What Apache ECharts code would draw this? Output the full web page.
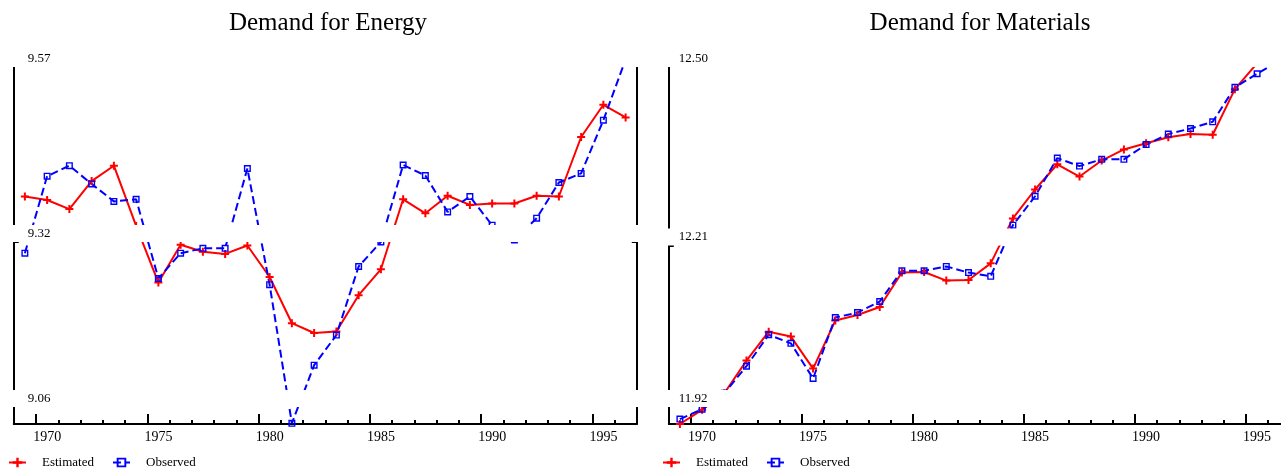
<!DOCTYPE html>
<html>
<head>
<meta charset="utf-8">
<script src="https://cdn.jsdelivr.net/npm/echarts@6/dist/echarts.min.js"></script>
<style>
  html, body { margin: 0; padding: 0; background: #fff; }
  #chart { width: 1281px; height: 469px; }
</style>
</head>
<body>
<div id="chart"></div>
<script>
// ---------------- data ----------------
const years = ['1969','1970','1971','1972','1973','1974','1975','1976','1977','1978',
               '1979','1980','1981','1982','1983','1984','1985','1986','1987','1988',
               '1989','1990','1991','1992','1993','1994','1995','1996'];

const energyEstimated = [9.385, 9.380, 9.367, 9.407, 9.429, 9.343, 9.262, 9.316, 9.306, 9.303,
                         9.315, 9.270, 9.204, 9.190, 9.192, 9.244, 9.281, 9.381, 9.361, 9.386,
                         9.373, 9.375, 9.375, 9.386, 9.385, 9.470, 9.516, 9.498];
const energyObserved  = [9.304, 9.414, 9.429, 9.403, 9.378, 9.381, 9.268, 9.304, 9.311, 9.311,
                         9.425, 9.259, 9.061, 9.144, 9.187, 9.285, 9.320, 9.430, 9.415, 9.363,
                         9.385, 9.344, 9.323, 9.354, 9.405, 9.418, 9.494, 9.581];

const materialsEstimated = [11.920, 11.943, 11.970, 12.023, 12.070, 12.062, 12.010, 12.088, 12.097, 12.110,
                            12.166, 12.167, 12.153, 12.154, 12.181, 12.254, 12.301, 12.342, 12.322, 12.348,
                            12.366, 12.376, 12.386, 12.391, 12.390, 12.464, 12.506, 12.515];
const materialsObserved  = [11.928, 11.944, 11.970, 12.014, 12.065, 12.051, 11.994, 12.093, 12.101, 12.119,
                            12.169, 12.169, 12.176, 12.166, 12.160, 12.243, 12.290, 12.352, 12.339, 12.350,
                            12.350, 12.374, 12.391, 12.400, 12.411, 12.467, 12.489, 12.510];

const energyTicks = [9.06, 9.32, 9.57];
const energyTickLabels = ['9.06', '9.32', '9.57'];
const materialsTicks = [11.92, 12.21, 12.50];
const materialsTickLabels = ['11.92', '12.21', '12.50'];

const titles = ['Demand for Energy', 'Demand for Materials'];
const seriesNames = ['Estimated', 'Observed'];

// ---------------- styling ----------------
const FONT = "'Liberation Serif', 'Times New Roman', serif";
const BLACK = '#000';
const PLUS = 'path://M3,0h2v3h3v2h-3v3h-2v-3h-3v-2h3z';
const BOX = 'path://M0,0h8v8h-8z M1.6,1.6v4.8h4.8v-4.8z';

function xAxes(gridIndex) {
  return [
    {
      gridIndex, type: 'category', data: years, boundaryGap: true, position: 'bottom',
      axisLine: { show: true, lineStyle: { color: BLACK, width: 2 } },
      axisTick: { show: true, inside: true, length: 4, interval: 0, lineStyle: { color: BLACK, width: 2 } },
      axisLabel: {
        show: true, margin: 6, color: BLACK, fontFamily: FONT, fontSize: 14,
        interval: (i, v) => (+v) % 5 === 0
      },
      splitLine: { show: false }
    },
    {
      gridIndex, type: 'category', data: years, boundaryGap: true, position: 'bottom', offset: 0,
      axisLine: { show: false },
      axisTick: { show: true, inside: true, length: 10, interval: (i, v) => (+v) % 5 === 0,
                  lineStyle: { color: BLACK, width: 2 } },
      axisLabel: { show: false },
      splitLine: { show: false }
    }
  ];
}

function yAxes(gridIndex, ticks, labels, textPad) {
  const min = ticks[0], max = ticks[ticks.length - 1];
  const innerTicks = ticks.slice(0, ticks.length - 1);
  return [
    {
      gridIndex, type: 'value', position: 'left', min, max, z: 6,
      axisLine: { show: true, lineStyle: { color: BLACK, width: 2 } },
      axisTick: { show: true, inside: true, length: 5, customValues: innerTicks,
                  lineStyle: { color: BLACK, width: 2 } },
      splitLine: { show: false },
      axisLabel: {
        show: true, inside: true, margin: -14, customValues: ticks,
        verticalAlign: 'bottom', align: 'left',
        formatter: (value) => {
          let idx = 0, best = Infinity;
          ticks.forEach((t, i) => { const d = Math.abs(t - value); if (d < best) { best = d; idx = i; } });
          const lab = labels[idx];
          return idx === 0 ? '{band|' + lab + '}\n{gap| }' : '{band|' + lab + '}';
        },
        rich: {
          band: {
            backgroundColor: '#ffffff', width: 640, height: 17, lineHeight: 17,
            padding: [0, 0, 0, textPad], align: 'left', verticalAlign: 'middle',
            color: BLACK, fontFamily: FONT, fontSize: 13
          },
          gap: { height: 17, lineHeight: 17, fontSize: 13, color: 'rgba(0,0,0,0)' }
        }
      }
    },
    {
      gridIndex, type: 'value', position: 'right', min, max, z: 4,
      axisLine: { show: true, lineStyle: { color: BLACK, width: 2 } },
      axisTick: { show: true, inside: true, length: 5, customValues: innerTicks,
                  lineStyle: { color: BLACK, width: 2 } },
      splitLine: { show: false },
      axisLabel: { show: false }
    }
  ];
}

function makeSeries(axisBase, est, obs) {
  return [
    {
      name: seriesNames[0], type: 'line', xAxisIndex: axisBase, yAxisIndex: axisBase,
      data: est, symbol: PLUS, symbolSize: 8, showAllSymbol: true, z: 2,
      itemStyle: { color: '#ff0000' },
      lineStyle: { color: '#ff0000', width: 2 },
      emphasis: { disabled: true }
    },
    {
      name: seriesNames[1], type: 'line', xAxisIndex: axisBase, yAxisIndex: axisBase,
      data: obs, symbol: BOX, symbolSize: 7, showAllSymbol: true, z: 2,
      itemStyle: { color: '#0000ff' },
      lineStyle: { color: '#0000ff', width: 2, type: [8, 4] },
      emphasis: { disabled: true }
    }
  ];
}

function legendAt(left) {
  return {
    left, top: 456, orient: 'horizontal', selectedMode: false, padding: 0,
    data: seriesNames, itemWidth: 17, itemHeight: 12, itemGap: 18,
    textStyle: { fontFamily: FONT, fontSize: 13, color: BLACK, padding: [0, 0, 0, 11] }
  };
}

const option = {
  animation: false,
  backgroundColor: '#ffffff',
  textStyle: { fontFamily: FONT },
  title: [
    { text: titles[0], left: 323, top: 6, textAlign: 'center',
      textStyle: { fontFamily: FONT, fontSize: 25, fontWeight: 'normal', color: BLACK } },
    { text: titles[1], left: 975, top: 6, textAlign: 'center',
      textStyle: { fontFamily: FONT, fontSize: 25, fontWeight: 'normal', color: BLACK } }
  ],
  legend: [legendAt(8), legendAt(662)],
  grid: [
    { left: 13.75, right: 644.25, top: 67, bottom: 45, containLabel: false, outerBoundsMode: 'none' },
    { left: 668.8, right: -9.4, top: 67, bottom: 45, containLabel: false, outerBoundsMode: 'none' }
  ],
  xAxis: [...xAxes(0), ...xAxes(1)],
  yAxis: [
    ...yAxes(0, energyTicks, energyTickLabels, 28),
    ...yAxes(1, materialsTicks, materialsTickLabels, 24)
  ],
  series: [
    ...makeSeries(0, energyEstimated, energyObserved),
    ...makeSeries(2, materialsEstimated, materialsObserved)
  ]
};

const chart = echarts.init(document.getElementById('chart'), null, { renderer: 'canvas' });
chart.setOption(option);
</script>
</body>
</html>
